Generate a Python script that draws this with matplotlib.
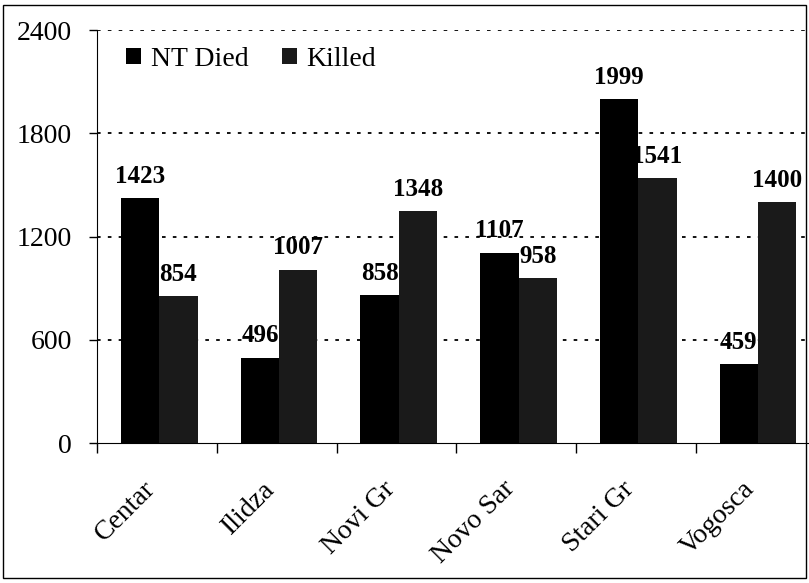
import numpy as np
import matplotlib.pyplot as plt
from matplotlib.patches import Rectangle
from matplotlib.transforms import ScaledTranslation

# data
municipalities = ['Centar', 'Ilidza', 'Novi Gr', 'Novo Sar', 'Stari Gr', 'Vogosca']
nt_died = [1423, 496, 858, 1107, 1999, 459]
killed = [854, 1007, 1348, 958, 1541, 1400]
yticks = [0, 600, 1200, 1800, 2400]

plt.rcParams['font.family'] = ['Liberation Serif', 'DejaVu Serif']

fig = plt.figure(figsize=(8.09, 5.83), dpi=100)
ax = fig.add_axes([0.12, 0.24, 0.888, 0.7085])

x = np.arange(len(municipalities))
w = 0.32
b1 = ax.bar(x - w / 2 + 0.02, nt_died, w, color='black', label='NT Died', zorder=3)
b2 = ax.bar(x + w / 2 + 0.02, killed, w, color='#1a1a1a', label='Killed', zorder=3)

# value labels sit under the bars, as in the scan
for bars, vals in ((b1, nt_died), (b2, killed)):
    for r, v in zip(bars, vals):
        ax.text(r.get_x() + r.get_width() / 2, v + 60, str(v), ha='center', va='bottom',
                fontsize=18, fontweight='bold', zorder=2)

ax.set_xlim(-0.5, len(municipalities) - 0.5)
ax.set_ylim(0, 2400)
ax.set_yticks(yticks)
ax.set_yticklabels([str(t) for t in yticks], fontsize=20)
ax.tick_params(axis='y', direction='out', length=6, width=1, pad=12)

ax.set_xticks(np.arange(len(municipalities) + 1) - 0.5)
ax.set_xticklabels([])
ax.tick_params(axis='x', which='major', direction='out', length=7, width=1)
ax.set_xticks(x, minor=True)
ax.set_xticklabels(municipalities, minor=True, rotation=45, ha='right',
                   rotation_mode='anchor', fontsize=20)
ax.tick_params(axis='x', which='minor', length=0, pad=24)
shift = ScaledTranslation(-14 / 100, 0, fig.dpi_scale_trans)
for lab in ax.get_xticklabels(minor=True):
    lab.set_transform(lab.get_transform() + shift)

for t in yticks[1:]:
    ax.axhline(t, color='black', linestyle=(0, (2, 4)), linewidth=1.3, zorder=1)

ax.spines['top'].set_visible(False)
ax.spines['right'].set_visible(False)

ax.legend(loc='upper left', bbox_to_anchor=(0.005, 1.02), frameon=False, fontsize=20,
          ncol=2, handlelength=0.55, handleheight=0.55, handletextpad=0.35,
          columnspacing=1.2)

# outer frame of the figure
fig.patches.append(Rectangle((0.004, 0.008), 0.992, 0.984, transform=fig.transFigure,
                             fill=False, edgecolor='black', linewidth=1))

fig.savefig('out.png', dpi=100)
